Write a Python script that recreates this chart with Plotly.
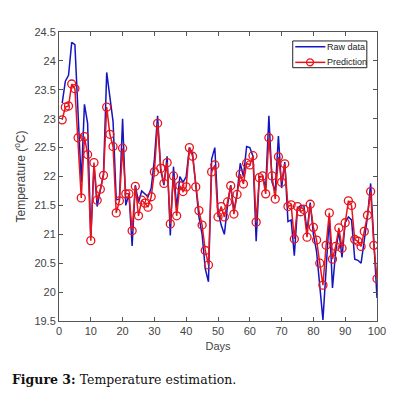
import plotly.graph_objects as go

days = list(range(1, 101))

raw_data = [
    23.27, 23.65, 23.75, 24.32, 24.28, 23.0, 21.9, 23.25, 22.92, 20.95,
    22.2, 21.48, 21.75, 22.05, 23.8, 23.35, 22.95, 21.6, 21.6, 23.0,
    21.5, 21.7, 20.8, 21.85, 21.55, 21.75, 21.7, 21.65, 21.8, 22.3,
    23.05, 22.1, 21.85, 22.35, 20.98, 22.17, 21.45, 22.0, 21.9, 22.0,
    22.5, 22.4, 21.85, 21.3, 21.0, 20.4, 20.18, 22.3, 22.5, 21.4,
    21.16, 21.0, 21.5, 21.85, 21.4, 21.7, 22.23, 22.0, 22.52, 22.5,
    22.35, 20.88, 22.0, 22.0, 21.8, 23.05, 21.9, 21.75, 22.7, 21.8,
    22.25, 21.22, 21.25, 20.63, 21.45, 21.5, 21.5, 21.05, 21.55, 21.0,
    20.7, 20.1, 19.52, 20.4, 21.3, 20.07, 20.7, 21.05, 20.6, 21.2,
    21.3, 21.25, 20.57, 20.55, 20.5, 20.9, 21.3, 21.88, 20.85, 19.9,
]

prediction = [
    22.98, 23.2, 23.22, 23.6, 23.52, 22.67, 21.63, 22.69, 22.38, 20.89,
    22.24, 21.59, 21.78, 22.02, 23.2, 22.73, 22.52, 21.37, 21.58, 22.49,
    21.7, 21.7, 21.06, 21.83, 21.32, 21.59, 21.54, 21.47, 21.65, 22.08,
    22.92, 22.14, 21.88, 22.24, 21.18, 22.01, 21.32, 21.84, 21.74, 21.82,
    22.5, 22.35, 21.82, 21.41, 21.16, 20.72, 20.47, 22.08, 22.2, 21.3,
    21.48, 21.3, 21.56, 21.84, 21.35, 21.69, 22.04, 21.87, 22.23, 22.2,
    22.36, 21.21, 21.98, 22.01, 21.7, 22.67, 22.01, 21.61, 22.34, 21.9,
    22.22, 21.48, 21.51, 20.92, 21.48, 21.39, 21.43, 20.95, 21.52, 21.12,
    20.9, 20.5, 20.12, 20.81, 21.37, 20.57, 20.79, 21.11, 20.76, 21.2,
    21.58, 21.5, 20.91, 20.88, 20.79, 21.05, 21.33, 21.74, 20.81, 20.23,
]

series_names = ["Raw data", "Prediction"]
x_ticks = [0, 10, 20, 30, 40, 50, 60, 70, 80, 90, 100]
y_ticks = [19.5, 20, 20.5, 21, 21.5, 22, 22.5, 23, 23.5, 24, 24.5]

BLUE = "#1414c0"
RED = "#e8141c"

fig = go.Figure()
fig.add_trace(go.Scatter(
    x=days, y=raw_data, mode="lines", name=series_names[0],
    line=dict(color=BLUE, width=1.5),
))
fig.add_trace(go.Scatter(
    x=days, y=prediction, mode="lines+markers", name=series_names[1],
    line=dict(color=RED, width=1.5),
    marker=dict(symbol="circle-open", size=8, color=RED, line=dict(width=1.3)),
))

axis_common = dict(
    showline=True, mirror="ticks", linecolor="#555555", linewidth=1,
    ticks="inside", ticklen=4, tickcolor="#555555",
    showgrid=False, zeroline=False,
    tickfont=dict(family="Liberation Sans, Arial", size=11, color="#444444"),
)

fig.update_layout(
    width=393, height=387,
    margin=dict(l=49, r=24, t=24, b=74),
    paper_bgcolor="white", plot_bgcolor="white",
    showlegend=False,
    xaxis=dict(range=[0, 100], tickvals=x_ticks,
               title=dict(text="Days", standoff=6,
                          font=dict(family="Liberation Sans, Arial", size=11, color="#444444")),
               **axis_common),
    yaxis=dict(range=[19.5, 24.5], tickvals=y_ticks,
               ticktext=[("%g" % v) for v in y_ticks],
               title=dict(text="Temperature (<sup>o</sup>C)", standoff=6,
                          font=dict(family="Liberation Sans, Arial", size=12, color="#444444")),
               **axis_common),
)

# Compact MATLAB-style legend (presentation only)
lx0, lx1, ly0, ly1 = 0.735, 0.968, 0.8765, 0.969
fig.add_shape(type="rect", xref="paper", yref="paper", x0=lx0, x1=lx1, y0=ly0, y1=ly1,
              line=dict(color="#222222", width=1), fillcolor="white", layer="above")
entry_y = [0.949, 0.895]
entry_col = [BLUE, RED]
for name, ey, col in zip(series_names, entry_y, entry_col):
    fig.add_shape(type="line", xref="paper", yref="paper", x0=0.743, x1=0.8375, y0=ey, y1=ey,
                  line=dict(color=col, width=1.5), layer="above")
    fig.add_annotation(xref="paper", yref="paper", x=0.84, y=ey, xanchor="left", yanchor="middle",
                       showarrow=False, text=name, borderpad=0,
                       font=dict(family="Liberation Sans, Arial", size=9, color="#222222"))
mx, my = 0.7895, entry_y[1]
rx, ry = 3.5 / 320, 3.5 / 289
fig.add_shape(type="circle", xref="paper", yref="paper", x0=mx - rx, x1=mx + rx, y0=my - ry, y1=my + ry,
              line=dict(color=RED, width=1.3), layer="above")

fig.add_annotation(
    xref="paper", yref="paper", x=-0.153, y=-0.204,
    xanchor="left", yanchor="middle", showarrow=False,
    text="<b>Figure 3:</b> Temperature estimation.",
    font=dict(family="DejaVu Serif, Liberation Serif, serif", size=12.5, color="#111111"),
)

fig.write_html("out.html")
